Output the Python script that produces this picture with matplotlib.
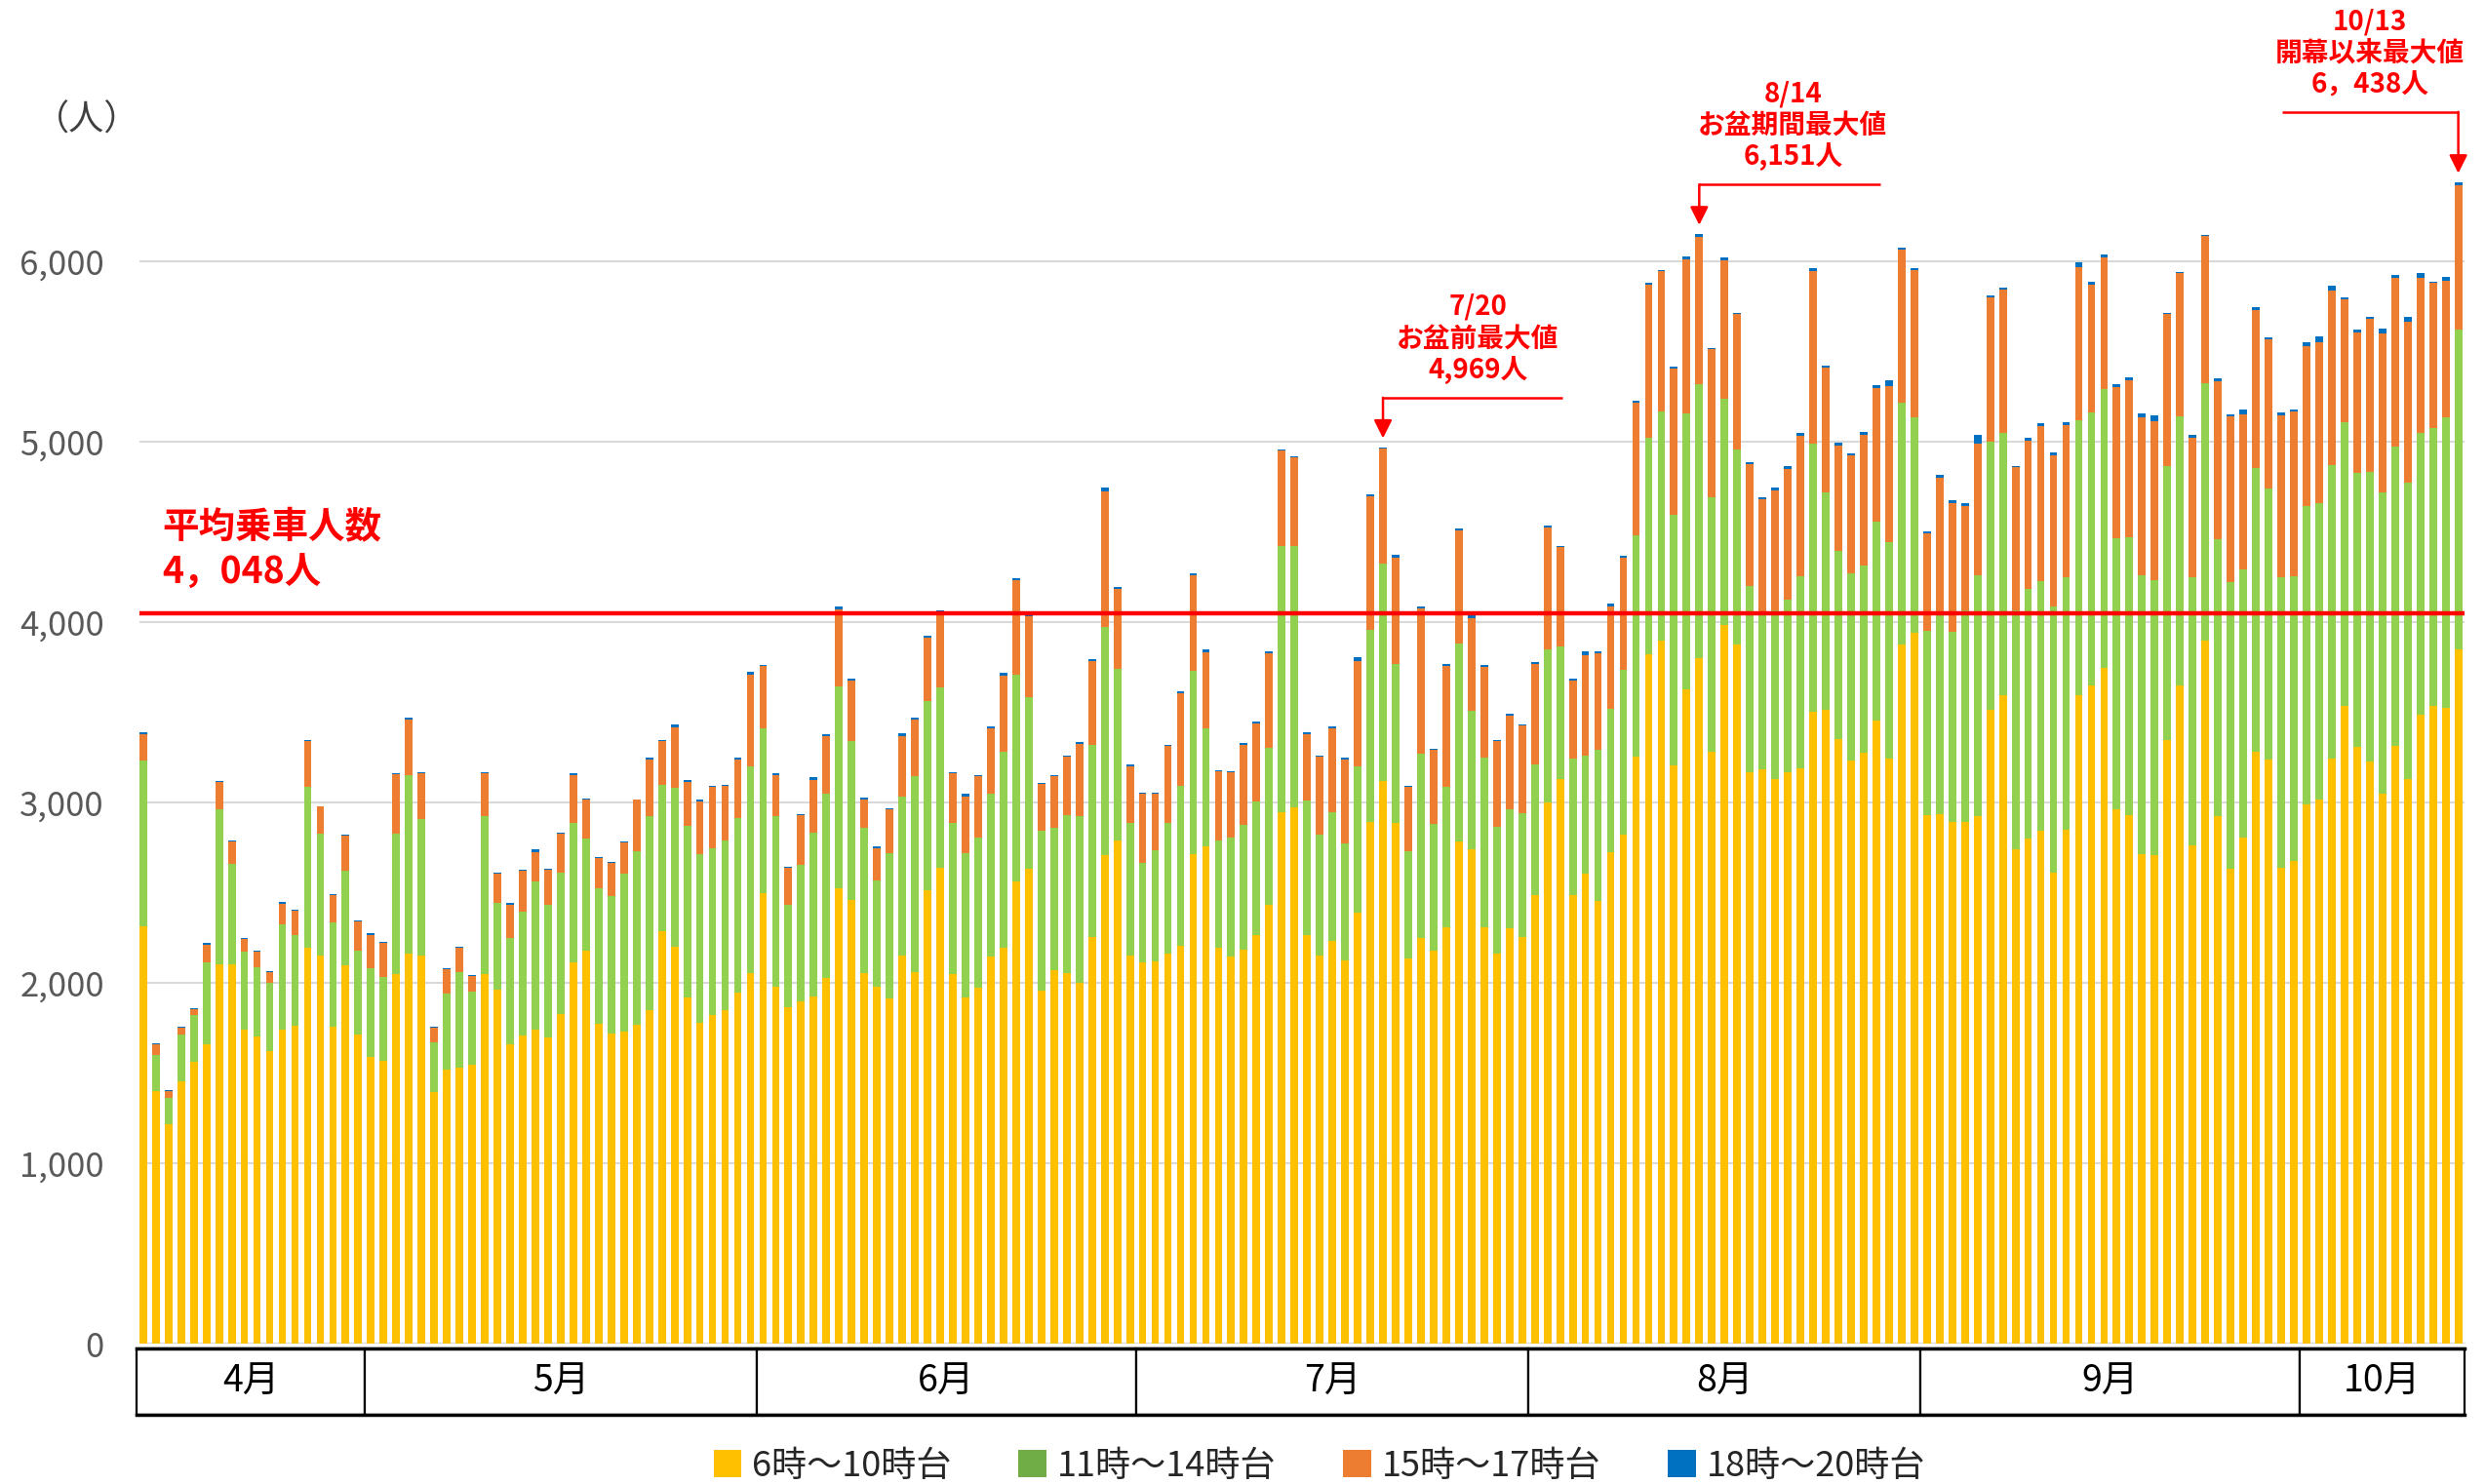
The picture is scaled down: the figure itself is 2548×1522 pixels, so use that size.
import matplotlib
matplotlib.use("Agg")
import matplotlib.pyplot as plt
from matplotlib.patches import Patch, Rectangle
import numpy as np

plt.rcParams['font.family'] = ['Noto Sans CJK JP', 'DejaVu Sans']

# daily riders per time band, 4/13 .. 10/13
h06_10 = [2316, 1399, 1214, 1453, 1562, 1659, 2102, 2102, 1738, 1702, 1621, 1738, 1761, 2193, 2153, 1758, 2097, 1715,
          1588, 1567, 2051, 2163, 2153, 1394, 1517, 1529, 1545, 2046, 1960, 1662, 1707, 1740, 1695, 1829, 2113, 2179,
          1771, 1720, 1732, 1768, 1851, 2285, 2199, 1921, 1776, 1821, 1848, 1947, 2054,
          2497, 1976, 1863, 1898, 1924, 2025, 2523, 2461, 2054, 1976, 1915, 2151, 2057, 2516, 2639, 2047, 1918, 1973,
          2147, 2196, 2561, 2634, 1956, 2069, 2056, 1999, 2256, 2707, 2790, 2153,
          2113, 2120, 2163, 2206, 2714, 2757, 2193, 2146, 2186, 2263, 2430, 2947, 2974, 2263, 2149, 2234, 2125, 2387,
          2891, 3117, 2887, 2137, 2250, 2181, 2306, 2782, 2738, 2306, 2161, 2302, 2254,
          2484, 3000, 3129, 2484, 2605, 2452, 2726, 2819, 3254, 3823, 3899, 3206, 3625, 3798, 3282, 3984, 3875, 3165,
          3185, 3129, 3169, 3190, 3504, 3516, 3351, 3230, 3274, 3452, 3242, 3875, 3940,
          2931, 2935, 2891, 2891, 2923, 3516, 3597, 2738, 2798, 2843, 2609, 2851, 3593, 3649, 3746, 2960, 2931, 2714,
          2710, 3347, 3649, 2762, 3896, 2926, 2635, 2806, 3281, 3238, 2639, 2673,
          2990, 3015, 3242, 3537, 3306, 3229, 3050, 3315, 3131, 3486, 3533, 3524, 3849]
h11_14 = [918, 201, 150, 259, 260, 453, 860, 560, 435, 385, 379, 588, 506, 896, 674, 578, 524, 463,
          491, 466, 776, 990, 753, 275, 426, 528, 404, 879, 481, 587, 689, 821, 735, 784, 773, 621,
          756, 763, 873, 962, 1074, 815, 884, 948, 937, 926, 943, 967, 1145,
          915, 951, 569, 754, 909, 1022, 1122, 877, 805, 589, 802, 879, 1087, 1048, 999, 838, 802, 834,
          903, 1087, 1145, 951, 888, 791, 875, 928, 1062, 1265, 948, 734,
          554, 617, 721, 885, 1014, 654, 594, 661, 691, 744, 874, 1472, 1445, 748, 670, 710, 649, 815,
          1065, 1206, 883, 593, 1020, 702, 783, 1097, 770, 940, 702, 658, 686,
          726, 847, 738, 758, 653, 838, 794, 915, 1226, 1201, 1270, 1391, 1532, 1521, 1408, 1254, 1081, 1033,
          871, 936, 956, 1064, 1484, 1202, 1044, 1040, 1041, 1104, 1202, 1343, 1193,
          1021, 1113, 1053, 1174, 1335, 1484, 1451, 1327, 1387, 1383, 1476, 1395, 1524, 1512, 1544, 1504, 1541, 1548,
          1524, 1520, 1492, 1484, 1429, 1531, 1587, 1488, 1574, 1501, 1608, 1579,
          1655, 1643, 1630, 1570, 1519, 1604, 1668, 1659, 1642, 1565, 1540, 1613, 1771]
h15_17 = [143, 59, 35, 41, 30, 97, 153, 122, 69, 86, 61, 114, 132, 249, 150, 153, 193, 160,
          188, 188, 331, 308, 257, 84, 131, 139, 89, 239, 167, 186, 223, 164, 197, 212, 267, 217,
          164, 183, 172, 284, 314, 239, 334, 245, 293, 339, 301, 323, 507,
          343, 226, 204, 278, 294, 320, 427, 339, 158, 181, 245, 340, 317, 352, 418, 275, 314, 340,
          362, 420, 527, 447, 257, 284, 323, 397, 464, 754, 444, 311,
          380, 310, 427, 514, 534, 424, 387, 361, 441, 431, 521, 531, 494, 367, 435, 467, 464, 580,
          742, 637, 589, 355, 803, 407, 669, 629, 516, 508, 476, 520, 487,
          560, 677, 548, 435, 557, 537, 569, 621, 738, 847, 775, 806, 855, 818, 822, 770, 750, 677,
          625, 665, 726, 778, 960, 693, 581, 653, 721, 742, 866, 847, 819,
          540, 750, 713, 580, 730, 802, 795, 794, 819, 863, 838, 847, 851, 710, 734, 838, 871, 875,
          879, 839, 794, 778, 813, 877, 919, 860, 876, 826, 898, 915,
          885, 894, 966, 680, 782, 847, 881, 933, 894, 856, 808, 753, 800]
h18_20 = [12, 5, 5, 5, 5, 10, 5, 3, 8, 5, 6, 10, 6, 6, 3, 5, 5, 8,
          8, 8, 5, 8, 5, 5, 8, 5, 4, 4, 4, 6, 6, 14, 6, 8, 8, 5,
          5, 5, 5, 3, 11, 5, 14, 8, 8, 8, 6, 10, 17,
          8, 8, 8, 6, 12, 12, 12, 8, 8, 10, 6, 12, 8, 10, 8, 8, 12, 6,
          8, 16, 10, 8, 6, 10, 8, 10, 13, 20, 10, 13,
          5, 5, 8, 10, 6, 13, 6, 5, 13, 13, 13, 6, 6, 10, 8, 12, 8, 24,
          12, 9, 12, 8, 12, 8, 12, 12, 12, 8, 8, 12, 8,
          8, 12, 8, 8, 24, 12, 12, 10, 8, 12, 8, 12, 16, 14, 8, 12, 10, 10,
          12, 16, 12, 16, 16, 8, 16, 12, 20, 16, 32, 12, 10,
          12, 16, 16, 16, 52, 8, 12, 8, 20, 12, 20, 16, 24, 16, 16, 16, 16, 20,
          32, 8, 8, 16, 8, 17, 13, 26, 13, 13, 17, 13,
          21, 34, 26, 13, 13, 13, 26, 17, 26, 30, 8, 26, 18]

months = ['4月', '5月', '6月', '7月', '8月', '9月', '10月']
month_days = [18, 31, 30, 31, 31, 30, 13]
band_labels = ['6時～10時台', '11時～14時台', '15時～17時台', '18時～20時台']
bar_colors = ['#FFC000', '#92D050', '#ED7D31', '#0070C0']
legend_colors = ['#FFC000', '#70AD47', '#ED7D31', '#0070C0']
avg_riders = 4048

# (bar index, text lines, leader line other end, text centre x, leader height above bar)
peaks = [(98, '7/20\nお盆前最大値\n4,969人', 112.2, 105.5, 275),
         (123, '8/14\nお盆期間最大値\n6,151人', 137.3, 130.4, 275),
         (183, '10/13\n開幕以来最大値\n6，438人', 169.1, 176.0, 390)]

series = [np.array(s) for s in (h06_10, h11_14, h15_17, h18_20)]
n = len(h06_10)
x = np.arange(n)
totals = sum(series)

fig = plt.figure(figsize=(25.48, 15.22), dpi=100)
ax = fig.add_axes([0.0561, 0.0946, 0.9357, 0.8995])

bottom = np.zeros(n)
for s, c in zip(series, bar_colors):
    ax.bar(x, s, bottom=bottom, width=0.6, color=c, linewidth=0)
    bottom += s

ax.set_xlim(-0.3, n - 0.5)
ax.set_ylim(0, 7400)
ax.set_yticks(range(0, 7000, 1000))
ax.set_yticklabels(['{:,}'.format(v) for v in range(0, 7000, 1000)], fontsize=25, color='#595959')
ax.tick_params(axis='y', length=0, pad=26)
ax.set_xticks([])
ax.yaxis.grid(True, color='#d9d9d9', lw=1.5)
ax.set_axisbelow(True)
for sp in ax.spines.values():
    sp.set_visible(False)

# average line
ax.axhline(avg_riders, color='#FF0000', lw=3.2, zorder=5)
ax.text(1.5, 4400, '平均乗車人数\n4，048人', color='#FF0000', fontsize=27, fontweight='bold',
        ha='left', va='center', linespacing=1.25)

# peak callouts
for idx, label, end, tx, lift in peaks:
    top = totals[idx]
    line_y = top + lift
    ax.plot([idx, end], [line_y, line_y], color='#FF0000', lw=1.8, solid_capstyle='butt')
    ax.annotate('', xy=(idx, top + 50), xytext=(idx, line_y),
                arrowprops=dict(arrowstyle='-|>', color='#FF0000', lw=1.8,
                                mutation_scale=28, shrinkA=0, shrinkB=0))
    ax.text(tx, line_y + 325, label, color='#FF0000', fontsize=20, fontweight='bold',
            ha='center', va='center', linespacing=1.2)

fig.text(0.035, 0.919, '（人）', fontsize=26, color='#404040', ha='center', va='center')

# month table under the bars
tax = fig.add_axes([0.0561, 0.0466, 0.9357, 0.0447], sharex=ax)
tax.set_ylim(0, 1)
tax.axis('off')
start = -0.5
for m, d in zip(months, month_days):
    tax.add_patch(Rectangle((start, 0), d, 1, facecolor='white', edgecolor='black', lw=1.6, clip_on=False))
    tax.text(start + d / 2, 0.5, m, fontsize=27, ha='center', va='center', color='black')
    start += d
tax.plot([-0.5, start], [1, 1], color='black', lw=2.5, clip_on=False)
tax.plot([-0.5, start], [0, 0], color='black', lw=2.5, clip_on=False)

handles = [Patch(facecolor=c, edgecolor='none') for c in legend_colors]
fig.legend(handles, band_labels, loc='center', bbox_to_anchor=(0.531, 0.012), ncol=4, frameon=False,
           fontsize=26, handlelength=0.8, handleheight=0.8, handletextpad=0.3, columnspacing=1.9,
           labelcolor='#262626')

fig.savefig('out.png', dpi=100)
